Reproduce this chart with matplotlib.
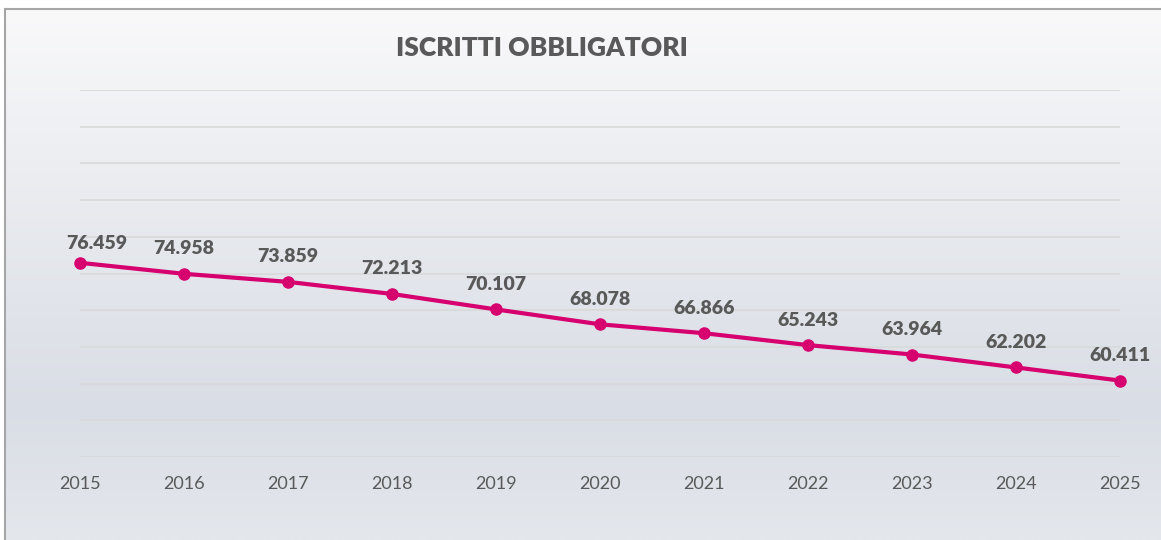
import numpy as np
import matplotlib.pyplot as plt
from matplotlib.colors import LinearSegmentedColormap

years = [2015, 2016, 2017, 2018, 2019, 2020, 2021, 2022, 2023, 2024, 2025]
iscritti = [76459, 74958, 73859, 72213, 70107, 68078, 66866, 65243, 63964, 62202, 60411]

title = "ISCRITTI OBBLIGATORI"
line_color = "#D6006F"
text_color = "#595959"

plt.rcParams['font.family'] = ['Lato', 'DejaVu Sans']

W, H = 1161, 540
fig = plt.figure(figsize=(W / 100, H / 100), dpi=100)
fig.patch.set_facecolor('white')

# background panel with vertical gradient (left and top border only)
bg = fig.add_axes([5 / W, 0, 1 - 5 / W, 1 - 9 / H], zorder=0)
bg.set_axis_off()
cmap = LinearSegmentedColormap.from_list(
    'bg', [(0.0, '#F9F9FA'), (0.2, '#F0F1F4'), (0.75, '#D9DDE5'), (1.0, '#E4E7EC')])
grad = np.linspace(0, 1, 256).reshape(-1, 1)
bg.imshow(grad, aspect='auto', cmap=cmap, extent=[0, 1, 0, 1], origin='upper')
bg.set_xlim(0, 1)
bg.set_ylim(0, 1)
bg.plot([0, 0], [0, 1], color='#A6A6A6', lw=1.5, clip_on=False)
bg.plot([0, 1], [1, 1], color='#A6A6A6', lw=1.5, clip_on=False)

ax = fig.add_axes([80 / W, 1 - 457 / H, (1120 - 80) / W, (457 - 90) / H], zorder=1)
ax.patch.set_alpha(0)
for s in ax.spines.values():
    s.set_visible(False)

ax.set_xlim(years[0], years[-1])
ax.set_ylim(50000, 100000)
ax.set_yticks(np.arange(50000, 100001, 5000))
ax.set_yticklabels([])
ax.grid(axis='y', color='#D9D9D9', lw=1.2)
ax.set_axisbelow(True)
ax.tick_params(axis='y', length=0)
ax.set_xticks(years)
ax.set_xticklabels([str(y) for y in years])
ax.tick_params(axis='x', length=0, pad=14, labelsize=13, labelcolor=text_color)

ax.plot(years, iscritti, color=line_color, lw=3, marker='o', ms=8,
        solid_capstyle='round', clip_on=False, zorder=3)

for i, (x, v) in enumerate(zip(years, iscritti)):
    lbl = f"{v:,}".replace(",", ".")
    dx, dy = (12, 14) if i == 0 else (0, 18)
    ax.annotate(lbl, (x, v), xytext=(dx, dy), textcoords='offset points',
                ha='center', va='center', fontsize=14, fontweight='heavy',
                color=text_color, annotation_clip=False)

fig.text(542 / W, 1 - 48 / H, title, ha='center', va='center',
         fontsize=19, fontweight='heavy', color=text_color)

fig.savefig('out.png', dpi=100)
